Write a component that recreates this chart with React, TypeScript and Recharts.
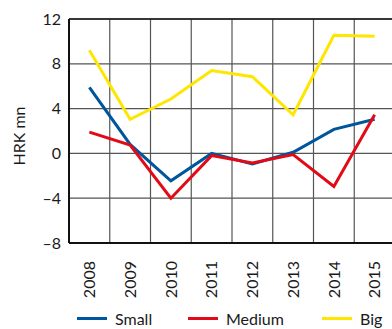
import React from "react";
import {
  LineChart,
  Line,
  XAxis,
  YAxis,
  CartesianGrid,
  Legend,
  ReferenceLine,
} from "recharts";

const years = ["2008", "2009", "2010", "2011", "2012", "2013", "2014", "2015"];
const small = [5.9, 0.8, -2.45, 0.0, -0.95, 0.1, 2.15, 3.05];
const medium = [1.9, 0.75, -4.0, -0.2, -0.85, -0.1, -2.95, 3.45];
const big = [9.2, 3.05, 4.85, 7.4, 6.85, 3.45, 10.55, 10.45];
const yTicks = [-8, -4, 0, 4, 8, 12];
const seriesNames = ["Small", "Medium", "Big"];

const data = years.map((year, i) => ({
  year,
  Small: small[i],
  Medium: medium[i],
  Big: big[i],
}));

const FONT = "Lato, 'Noto Sans', sans-serif";
const TEXT = "#1a1a1a";
const legendLeft = [77, 188, 322];

const fmt = (v: number) => (v < 0 ? "\u2013" + Math.abs(v) : String(v));

const YearTick = (props: any) => {
  const { x, y, payload } = props;
  return (
    <text
      transform={`translate(${x},${y + 10}) rotate(-90)`}
      textAnchor="end"
      dy="0.36em"
      fontSize={16}
      fontFamily={FONT}
      fill={TEXT}
    >
      {payload.value}
    </text>
  );
};

const LegendContent = (props: any) => {
  const items = [...(props.payload || [])].sort(
    (a: any, b: any) => seriesNames.indexOf(a.value) - seriesNames.indexOf(b.value)
  );
  return (
    <div style={{ position: "relative", width: 400, height: 20 }}>
      {items.map((it: any, i: number) => (
        <div
          key={it.value}
          style={{
            position: "absolute",
            left: legendLeft[i],
            top: 3,
            height: 20,
            display: "flex",
            alignItems: "center",
            fontFamily: FONT,
            fontSize: 16,
            color: TEXT,
          }}
        >
          <span
            style={{
              display: "inline-block",
              width: 30,
              height: 3,
              background: it.color,
              marginRight: 8,
            }}
          />
          {it.value}
        </div>
      ))}
    </div>
  );
};

export default function App() {
  return (
    <div style={{ position: "absolute", left: 0, top: 0, background: "#fff" }}>
      <LineChart
        width={400}
        height={329}
        data={data}
        margin={{ top: 19, right: 5, bottom: 4, left: 0 }}
      >
        <CartesianGrid
          stroke="#555"
          strokeWidth={1.2}
          verticalCoordinatesGenerator={({ offset }: any) =>
            years.map((_, i) => offset.left + ((i + 1) * offset.width) / years.length)
          }
        />
        <ReferenceLine y={12} stroke="#111" strokeWidth={1.5} />
        <XAxis
          dataKey="year"
          scale="band"
          tickLine={false}
          axisLine={{ stroke: "#111", strokeWidth: 2 }}
          height={62}
          interval={0}
          tick={<YearTick />}
        />
        <YAxis
          domain={[-8, 12]}
          ticks={yTicks}
          width={69}
          tickLine={false}
          axisLine={{ stroke: "#111", strokeWidth: 2 }}
          tickFormatter={fmt}
          tick={{ fontSize: 16, fontFamily: FONT, fill: TEXT }}
          label={(p: any) => {
            const vb = p.viewBox || {};
            const cy = vb.y + vb.height / 2 + 5;
            return (
              <text
                transform={`translate(19,${cy}) rotate(-90)`}
                textAnchor="middle"
                dy="0.36em"
                fontSize={16}
                fontFamily={FONT}
                fill={TEXT}
              >
                HRK mn
              </text>
            );
          }}
        />
        <Legend
          verticalAlign="bottom"
          content={<LegendContent />}
          wrapperStyle={{ left: 0, width: 400 }}
        />
        <Line
          type="linear"
          dataKey="Small"
          stroke="#00569c"
          strokeWidth={3}
          dot={false}
          isAnimationActive={false}
        />
        <Line
          type="linear"
          dataKey="Medium"
          stroke="#e30a17"
          strokeWidth={3}
          dot={false}
          isAnimationActive={false}
        />
        <Line
          type="linear"
          dataKey="Big"
          stroke="#ffe600"
          strokeWidth={3}
          dot={false}
          isAnimationActive={false}
        />
      </LineChart>
    </div>
  );
}
